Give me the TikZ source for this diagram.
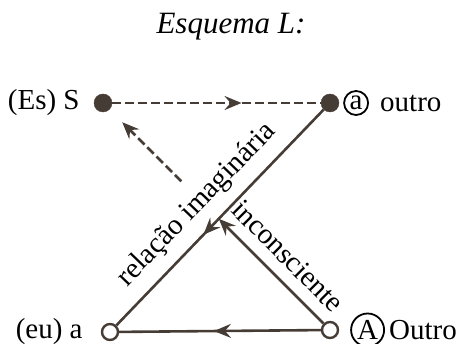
\documentclass[tikz,border=0pt]{standalone}
\usepackage{fontspec}
\setmainfont{Liberation Serif}
\usetikzlibrary{arrows.meta,positioning,calc,decorations.markings}
\definecolor{lacanink}{RGB}{70,60,54}
\tikzset{
  fulldot/.style={circle, fill=lacanink, draw=lacanink,
    minimum size=18pt, inner sep=0pt},
  opendot/.style={circle, draw=lacanink, line width=2.4pt, fill=white,
    minimum size=16pt, inner sep=0pt},
  lbl/.style={inner sep=0pt, font=\fontsize{29}{30}\selectfont},
  ringed/.style={circle, draw, line width=1.8pt, inner sep=0pt,
    font=\fontsize{29}{30}\selectfont},
  arr/.style={-{Stealth[length=17pt, width=14pt, inset=6pt]}},
  ln/.style={color=lacanink, line width=2.6pt},
  dln/.style={ln, dash pattern=on 9pt off 4pt},
  midarr/.style={postaction={decorate}, decoration={markings,
    mark=at position #1 with {\arrow{Stealth[length=17pt, width=14pt, inset=6pt]}}}},
}

\begin{document}
\begin{tikzpicture}[x=1pt, y=1pt]
  \useasboundingbox (0,0) rectangle (467,-344);

  % Title
  \node[font=\itshape\fontsize{31}{33}\selectfont] (title) at (231,-27) {Esquema L:};

  % Corners
  \node[fulldot] (S) at (103,-103) {};
  \node[fulldot] (a) at (330,-103) {};
  \node[opendot] (eu) at (110,-332) {};
  \node[opendot] (A) at (330,-330) {};

  % Corner labels
  \node[lbl, left=14pt of S] (Slbl) {(Es) S};
  \node[ringed, minimum size=24pt, right=4pt of a] (aring) {a};
  \node[lbl, right=11pt of aring] (albl) {outro};
  \node[lbl, left=18pt of eu] (eulbl) {(eu) a};
  \node[ringed, minimum size=33pt, right=11pt of A] (Aring) {A};
  \node[lbl, right=4pt of Aring] (Albl) {Outro};

  % Connectors
  \draw[dln, midarr=0.62] (S) -- (a);
  \draw[ln, midarr=0.58] (a) -- (eu);
  \draw[ln, midarr=0.53] (A) -- (eu);
  \coordinate (gapin) at ($(A)!0.49!(S)$);
  \coordinate (gapout) at ($(A)!0.655!(S)$);
  \draw[ln, arr] (A) -- (gapin);
  \draw[dln, arr, shorten >=18pt] (gapout) -- (S);

  % Axis labels
  \node[lbl, rotate=46] (relimg) at (197,-205) {relação imaginária};
  \node[lbl, rotate=-45] (incons) at (288,-256) {inconsciente};
\end{tikzpicture}
\end{document}
